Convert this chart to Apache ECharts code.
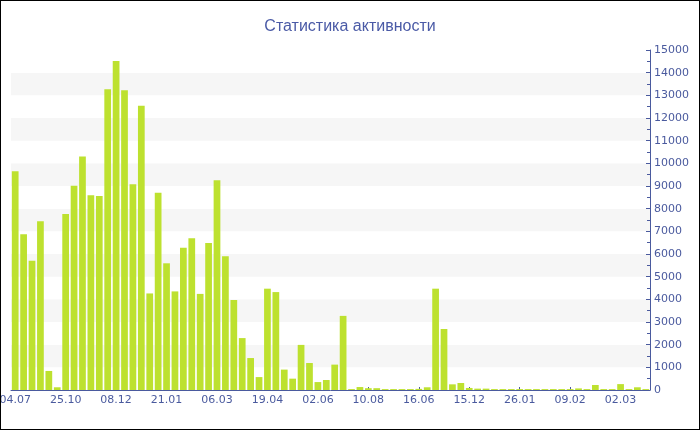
<!DOCTYPE html>
<html>
<head>
<meta charset="utf-8">
<script src="https://cdn.jsdelivr.net/npm/echarts@6/dist/echarts.min.js"></script>
<style>
html,body{margin:0;padding:0;background:#fff;}
#wrap{position:relative;width:700px;height:430px;}
#chart{position:absolute;left:0;top:0;width:700px;height:430px;}
#frame{position:absolute;left:0;top:0;width:700px;height:430px;box-sizing:border-box;border:1px solid #000;pointer-events:none;}
</style>
</head>
<body>
<div id="wrap"><div id="chart"></div><div id="frame"></div></div>
<script>
const titleText = 'Статистика активности';
// tick labels shown every 6th category
const tickLabels = ['04.07','25.10','08.12','21.01','06.03','19.04','02.06','10.08','16.06','15.12','26.01','09.02','02.03'];
const labelStep = 6;
const values = [
  9650, 6870, 5700, 7450, 840, 120, 7760, 9010, 10300, 8590,
  8560, 13270, 14510, 13220, 9080, 12540, 4260, 8700, 5590, 4350,
  6280, 6700, 4240, 6490, 9250, 5900, 3970, 2290, 1410, 570,
  4470, 4320, 900, 500, 1990, 1190, 350, 440, 1120, 3270,
  40, 130, 80, 80, 40, 40, 40, 40, 50, 120,
  4470, 2690, 250, 310, 90, 60, 60, 40, 40, 40,
  40, 40, 40, 40, 40, 40, 40, 70, 40, 220,
  40, 40, 260, 40, 120, 40
];
const categories = values.map((v, i) => (i % labelStep === 0 ? tickLabels[i / labelStep] : ''));

const axisColor = '#4a5a9e';
const chart = echarts.init(document.getElementById('chart'), null, {renderer: 'canvas'});
chart.setOption({
  animation: false,
  backgroundColor: '#fff',
  title: {
    text: titleText,
    left: 'center',
    top: 14,
    textStyle: {color: '#4a5aa6', fontSize: 16, fontWeight: 'normal', fontFamily: 'Liberation Sans'}
  },
  grid: {left: 11, right: 50, top: 50, bottom: 40, containLabel: false, outerBoundsMode: 'none'},
  xAxis: {
    type: 'category',
    data: categories,
    boundaryGap: true,
    axisLine: {lineStyle: {color: axisColor, width: 1}},
    axisTick: {show: true, inside: true, length: 3, alignWithLabel: true, interval: labelStep - 1, lineStyle: {color: axisColor}},
    axisLabel: {interval: labelStep - 1, color: axisColor, fontSize: 11, fontFamily: 'DejaVu Sans', margin: 5, hideOverlap: false},
    splitLine: {show: false}
  },
  yAxis: {
    type: 'value',
    position: 'right',
    min: 0,
    max: 15000,
    interval: 1000,
    axisLine: {show: true, lineStyle: {color: axisColor, width: 1}},
    axisTick: {show: true, inside: true, length: 4, lineStyle: {color: axisColor}},
    minorTick: {show: true, splitNumber: 2, length: 3, lineStyle: {color: axisColor}},
    axisLabel: {color: axisColor, fontSize: 11, fontFamily: 'DejaVu Sans', margin: 4, formatter: v => String(v)},
    splitLine: {show: false},
    splitArea: {show: true, areaStyle: {color: ['#ffffff', '#f6f6f6']}}
  },
  series: [{
    type: 'bar',
    data: values,
    barCategoryGap: '20%',
    itemStyle: {color: '#bde12f'}
  }]
});
</script>
</body>
</html>
